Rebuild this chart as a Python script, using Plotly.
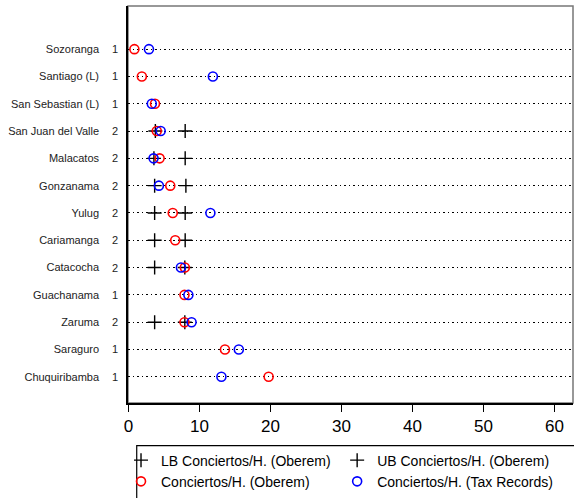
import plotly.graph_objects as go

towns = ["Sozoranga", "Santiago (L)", "San Sebastian (L)", "San Juan del Valle",
         "Malacatos", "Gonzanama", "Yulug", "Cariamanga", "Catacocha",
         "Guachanama", "Zaruma", "Saraguro", "Chuquiribamba"]
counts = [1, 1, 1, 2, 2, 2, 2, 2, 2, 1, 2, 1, 1]
oberem = [0.85, 1.9, 3.75, 4.0, 4.4, 5.9, 6.25, 6.6, 7.95, 7.9, 7.9, 13.6, 19.75]
tax = [2.9, 11.9, 3.3, 4.55, 3.55, 4.3, 11.55, None, 7.4, 8.45, 8.9, 15.55, 13.1]
lb = [None, None, None, 3.8, 3.6, 3.7, 3.7, 3.7, 3.7, None, 3.7, None, None]
ub = [None, None, None, 8.0, 8.0, 8.1, 8.0, 8.0, 7.95, None, 7.95, None, None]
xticks = [0, 10, 20, 30, 40, 50, 60]

order = towns[::-1]
FONT = "Liberation Sans, Arial, Helvetica, sans-serif"

fig = go.Figure()
fig.add_trace(go.Scatter(x=lb, y=towns, mode="markers", name="LB Conciertos/H. (Oberem)",
                         legend="legend",
                         marker=dict(symbol="cross-thin", size=10, color="black",
                                     line=dict(color="black", width=1.4))))
fig.add_trace(go.Scatter(x=ub, y=towns, mode="markers", name="UB Conciertos/H. (Oberem)",
                         legend="legend2",
                         marker=dict(symbol="cross-thin", size=10, color="black",
                                     line=dict(color="black", width=1.4))))
fig.add_trace(go.Scatter(x=oberem, y=towns, mode="markers", name="Conciertos/H. (Oberem)",
                         legend="legend",
                         marker=dict(symbol="circle-open", size=9, color="red",
                                     line=dict(color="red", width=1.6))))
fig.add_trace(go.Scatter(x=tax, y=towns, mode="markers", name="Conciertos/H. (Tax Records)",
                         legend="legend2",
                         marker=dict(symbol="circle-open", size=9, color="blue",
                                     line=dict(color="blue", width=1.6))))

for t, c in zip(towns, counts):
    fig.add_annotation(x=0, xref="paper", y=t, yref="y", text=str(c), showarrow=False,
                       xanchor="right", xshift=-8, font=dict(size=11, color="#222", family=FONT))

# plot frame
fig.add_shape(type="rect", xref="paper", yref="paper", x0=0, x1=1, y0=0, y1=1,
              line=dict(color="#777", width=1.5), layer="below")
# legend frame
fig.add_shape(type="rect", xref="paper", yref="paper", x0=0.0196, x1=1.02, y0=-0.27, y1=-0.1076,
              line=dict(color="black", width=1.2), fillcolor="rgba(0,0,0,0)")

leg_common = dict(orientation="v", xanchor="left", yanchor="top", y=-0.1046,
                  bgcolor="rgba(0,0,0,0)", borderwidth=0, font=dict(size=14, family=FONT),
                  itemwidth=30, tracegroupgap=0)

fig.update_layout(
    width=574, height=498,
    margin=dict(l=128, r=1, t=6, b=95, autoexpand=False),
    paper_bgcolor="white", plot_bgcolor="white",
    font=dict(family=FONT, color="black"),
    showlegend=True,
    legend=dict(x=-0.0157, **leg_common),
    legend2=dict(x=0.47, **leg_common),
    xaxis=dict(range=[-0.05, 62.6], tickvals=xticks, ticks="outside", ticklen=7,
               tickcolor="black", tickfont=dict(size=17), showgrid=False, zeroline=False,
               showline=True, linecolor="black", linewidth=1.5),
    yaxis=dict(type="category", categoryorder="array", categoryarray=order,
               range=[-0.96, 13.58], showgrid=True, gridcolor="black", griddash="1.5px,3px",
               gridwidth=1.2, ticks="", ticklabelstandoff=25, tickfont=dict(size=11, color="#222"),
               zeroline=False, showline=True, linecolor="black", linewidth=1.5),
)

fig.write_html("out.html", config={"displayModeBar": False},
               post_script="document.body.style.margin='0';document.body.style.overflow='hidden';")
